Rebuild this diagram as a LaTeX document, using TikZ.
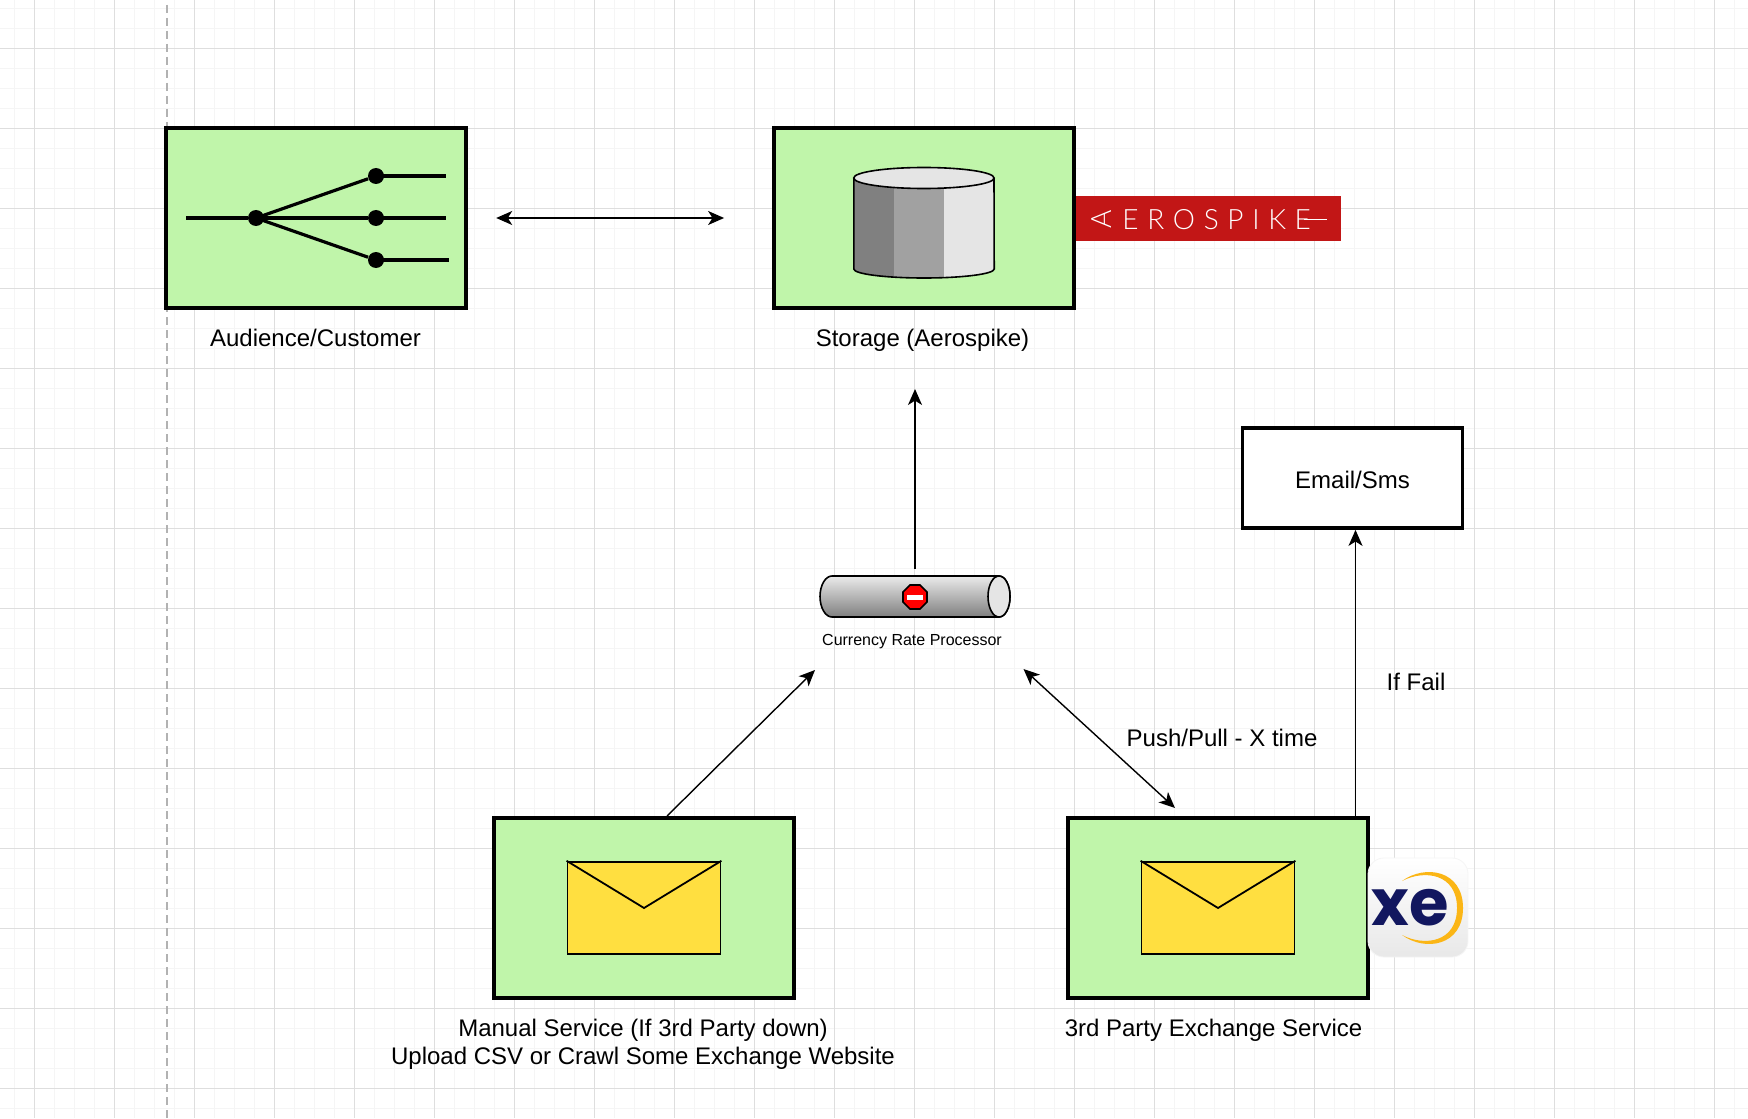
\documentclass[tikz,border=0pt]{standalone}
\usepackage{fontspec}
\setmainfont{Liberation Sans}
\newfontfamily\logofont[LetterSpace=31]{Lato Light}
\newfontfamily\logoafont{Lato Light}
\newfontfamily\xefont{Poppins}
\usepackage{xcolor}
\usetikzlibrary{arrows.meta,positioning,shapes.geometric,calc}
\definecolor{panelgreen}{HTML}{C0F5AA}
\definecolor{mailyellow}{HTML}{FFDF40}
\definecolor{logored}{HTML}{C21616}
\definecolor{xenavy}{HTML}{12175F}
\definecolor{xegold}{HTML}{FBB616}

\begin{document}
\begin{tikzpicture}[
    x=0.5pt, y=-0.5pt,
    panel/.style={rectangle, draw, line width=1.9pt, fill=panelgreen,
                  minimum width=150pt, minimum height=90pt, inner sep=0pt},
    mailbox/.style={rectangle, draw, line width=0.9pt, fill=mailyellow,
                    minimum width=76.5pt, minimum height=46.3pt, inner sep=0pt},
    caption/.style={align=center, inner sep=0pt, font=\fontsize{12}{14}\selectfont},
    dot/.style={circle, fill=black, minimum size=8pt, inner sep=0pt},
    wire/.style={line width=1.6pt},
    link/.style={line width=0.7pt, -{Stealth[length=8pt,width=7pt,inset=2.2pt]}},
    twolink/.style={line width=0.7pt, {Stealth[length=8pt,width=7pt,inset=2.2pt]}-{Stealth[length=8pt,width=7pt,inset=2.2pt]}},
]
\useasboundingbox (0,0) rectangle (1748,1118);
\fill[white] (0,0) rectangle (1748,1118);

% Grid
\foreach \x in {14.7,34.7,...,1748} \draw[black!4, line width=0.5pt] (\x,0) -- (\x,1118);
\foreach \y in {8.3,28.3,...,1118} \draw[black!4, line width=0.5pt] (0,\y) -- (1748,\y);
\foreach \x in {34.7,114.7,...,1748} \draw[black!13, line width=0.5pt] (\x,0) -- (\x,1118);
\foreach \y in {48.3,128.3,...,1118} \draw[black!13, line width=0.5pt] (0,\y) -- (1748,\y);
\draw[black!30, line width=0.6pt, dash pattern=on 4pt off 2.5pt] (167,5) -- (167,1118);

% Panels
\node[panel] (audience) at (316.3,218) {};
\node[panel] (storage) at (924,218) {};
\node[panel] (manual) at (644,908) {};
\node[panel] (exchange) at (1218,908) {};
\node[rectangle, draw, line width=1.9pt, fill=white, minimum width=110pt, minimum height=50pt] (email) at (1352.5,478) {};

% Captions
\node[caption] (emailtext) at (1352.5,479.5) {Email/Sms};
\node[caption] (audiencetext) at (315.5,338) {Audience/Customer};
\node[caption] (storagetext) at (922.5,340) {Storage (Aerospike)};
\node[caption] (manualtext) at (643,1044) {Manual Service (If 3rd Party down)\\Upload CSV or Crawl Some Exchange Website};
\node[caption] (exchangetext) at (1213.5,1030) {3rd Party Exchange Service};
\node[caption] (failtext) at (1416,682) {If Fail};
\node[caption] (pushtext) at (1222,738) {Push/Pull - X time};

% Fan-out icon
\node[dot] (hub) at (256,218) {};
\node[dot] (fana) at (376,176) {};
\node[dot] (fanb) at (376,218) {};
\node[dot] (fanc) at (376,260) {};
\coordinate (fanin) at (186,218);
\coordinate (fanouta) at (446,176);
\coordinate (fanoutb) at (446,218);
\coordinate (fanoutc) at (449,260);
\draw[wire] (fanin) -- (hub);
\foreach \a/\b in {hub/fana, hub/fanb, hub/fanc, fana/fanouta, fanb/fanoutb, fanc/fanoutc}
    \draw[wire] (\a.center) -- (\b);

% Database icon
\begin{scope}
\clip (853.8,178) -- (853.8,269) arc[start angle=180, end angle=360, x radius=35.1pt, y radius=4.5pt]
      -- (994,178) -- cycle;
\fill[black!50] (850,160) rectangle (894,285);
\fill[black!37] (894,160) rectangle (943.7,285);
\fill[black!10] (943.7,160) rectangle (998,285);
\end{scope}
\draw[line width=0.8pt] (853.8,178) -- (853.8,269) arc[start angle=180, end angle=360, x radius=35.1pt, y radius=4.5pt]
      -- (994,178);
\draw[line width=0.8pt, fill=black!10] (923.9,178) ellipse[x radius=35.1pt, y radius=5.25pt];

% Logo band
\fill[logored] (1075.5,196) rectangle (1341,241);
\node[rotate=90, text=white, inner sep=0pt, font=\fontsize{14}{14}\selectfont\logoafont] (logoa) at (1102,219.5) {A};
\node[text=white, inner sep=0pt, anchor=west, font=\fontsize{14}{14}\selectfont\logofont] (logotext) at (1122,219.5) {EROSPIKE};
\draw[white, line width=0.5pt] (1304,219.5) -- (1327,219.5);

% Processor pipe
\node[rectangle, minimum width=95pt, minimum height=20.5pt, inner sep=0pt] (processor) at (915,596.5) {};
\draw[line width=0.8pt, top color=black!8, bottom color=black!50]
    (832,576) -- (999,576) arc[start angle=90, end angle=-90, x radius=5.5pt, y radius=10.25pt]
    -- (832,617) arc[start angle=270, end angle=90, x radius=6pt, y radius=10.25pt] -- cycle;
\draw[line width=0.8pt, fill=black!10] (999,596.5) ellipse[x radius=5.5pt, y radius=10.25pt];
\node[regular polygon, regular polygon sides=8, draw, line width=0.8pt, fill=red,
      minimum size=13pt, inner sep=0pt] (stopsign) at (915,597) {};
\fill[white] (907,594.5) rectangle (923,599.5);
\node[caption, font=\fontsize{8}{10}\selectfont] (processortext) at (912,641.5) {Currency Rate Processor};

% Envelopes
\foreach \n/\c in {mailleft/manual, mailright/exchange} {
    \node[mailbox] (\n) at (\c) {};
    \draw[line width=0.9pt] (\n.north west) -- (\n.center) -- (\n.north east);
}

% XE badge
\node[rectangle, rounded corners=8pt, draw=black!4, line width=0.4pt, top color=white, bottom color=black!9,
      minimum width=50pt, minimum height=49.5pt, inner sep=0pt] (xeicon) at (1418,907.5) {};
\node[text=xenavy, inner sep=0pt, font=\fontsize{32}{32}\selectfont\xefont\bfseries] (xetext) at (1410,908) {xe};
\fill[xegold] (1402,881) .. controls (1425,864) and (1463,870) .. (1463,908)
    .. controls (1463,946) and (1425,952) .. (1402,935)
    .. controls (1425,947) and (1457,942) .. (1457,908)
    .. controls (1457,874) and (1425,869) .. (1402,881) -- cycle;

% Connectors
\coordinate (tostorage) at (915,389);
\coordinate (frommanual) at (667,816);
\coordinate (tomanualpipe) at (815,670);
\coordinate (pipeport) at (1023.5,669);
\coordinate (exchangeport) at (1175,808);
\coordinate (exchangetop) at (1355.5,816);
\draw[twolink, yshift=0.25pt, shorten <=14pt, shorten >=24pt] (audience) -- (storage);
\draw[link, shorten <=3.5pt] (processor.north) -- (tostorage);
\draw[link] (frommanual) -- (tomanualpipe);
\draw[twolink] (pipeport) -- (exchangeport);
\draw[link] (exchangetop) -- (exchangetop |- email.south);
\end{tikzpicture}
\end{document}
